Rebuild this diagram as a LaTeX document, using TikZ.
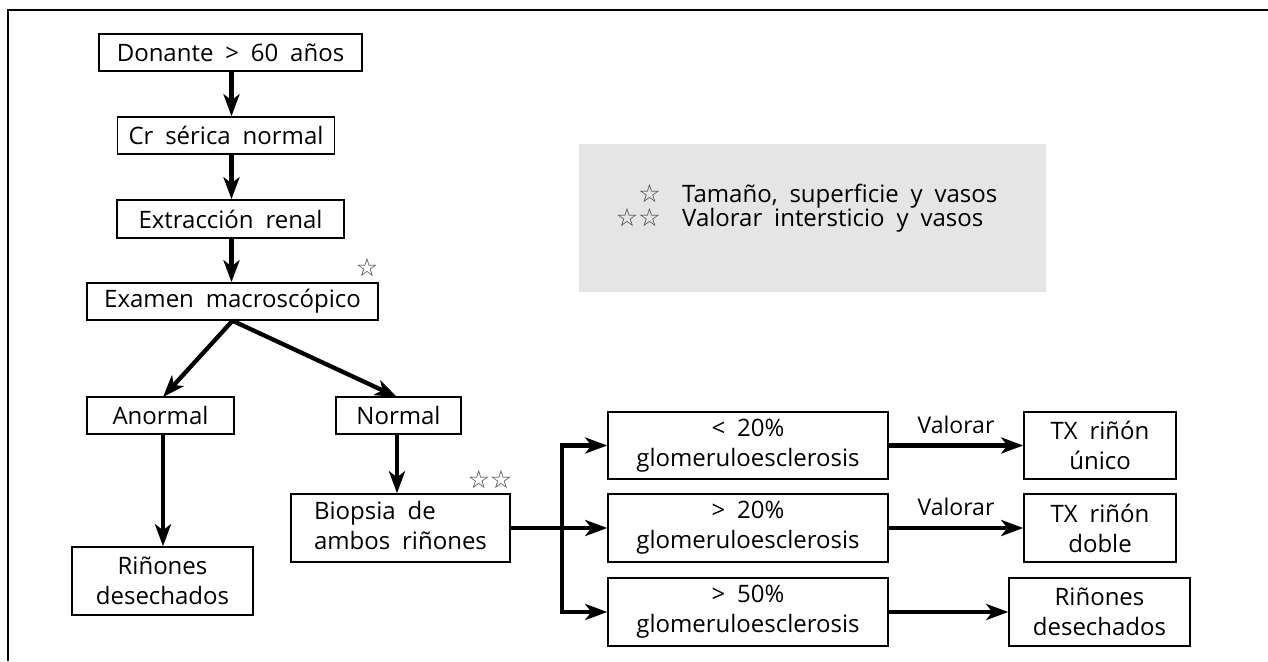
\documentclass[tikz,border=0pt]{standalone}
\usepackage{fontspec}
\setmainfont{Open Sans}[WordSpace=1.9]
\newfontfamily\symf{DejaVu Sans}
\usetikzlibrary{arrows.meta}
\tikzset{
  box/.style={draw, line width=1.5pt, inner sep=0pt, align=center, font=\fontsize{24}{30}\selectfont},
  arr/.style={line width=4.3pt, -{Stealth[length=22pt,width=16pt,inset=6pt]}},
  bar/.style={line width=4.3pt},
  starlbl/.style={font=\symf\fontsize{25}{25}\selectfont, text=black!75, inner sep=0pt},
  lbl/.style={font=\fontsize{23}{24}\selectfont, inner sep=0pt},
  legtxt/.style={font=\fontsize{24}{24}\selectfont, inner sep=0pt}
}
\begin{document}
\begin{tikzpicture}[x=1pt,y=-1pt]
\useasboundingbox (0,0) rectangle (1268,661);
% frame
\draw[line width=1.4pt] (8,661) -- (8,10) -- (1268,10);
% legend
\fill[black!10] (579,144) rectangle (1046,292);
\node[starlbl, anchor=base east] (ls1) at (661,202) {☆};
\node[starlbl, anchor=base east] (ls2) at (661,226) {☆☆};
\node[legtxt, anchor=base west] (lt1) at (682,202) {Tamaño, superficie y vasos};
\node[legtxt, anchor=base west] (lt2) at (682,226) {Valorar intersticio y vasos};
% nodes
\node[box, minimum width=263pt, minimum height=37pt] (don) at (230.5,52.5) {Donante > 60 años};
\node[box, minimum width=217pt, minimum height=37pt] (cr) at (226,135.5) {Cr sérica normal};
\node[box, minimum width=227pt, minimum height=38pt] (ext) at (230.5,219) {Extracción renal};
\node[box, minimum width=291pt, minimum height=37pt] (exa) at (232.5,301.5) {Examen macroscópico};
\node[starlbl] (s1) at (367,268) {☆};
\node[box, minimum width=147pt, minimum height=37pt] (ano) at (160.5,415.5) {Anormal};
\node[box, minimum width=125pt, minimum height=37pt] (nor) at (398.5,415.5) {Normal};
\node[box, minimum width=181pt, minimum height=68pt] (rd1) at (162.5,581) {Riñones\\desechados};
\node[box, minimum width=219pt, minimum height=68pt] (bio) at (400.5,528) {\begin{tabular}{@{}l@{}}Biopsia de\\ambos riñones\end{tabular}};
\node[starlbl] (s2) at (490,480) {☆☆};
\node[box, minimum width=280pt, minimum height=67pt] (g1) at (748,445.5) {< 20\%\\glomeruloesclerosis};
\node[box, minimum width=280pt, minimum height=68pt] (g2) at (748,528) {> 20\%\\glomeruloesclerosis};
\node[box, minimum width=280pt, minimum height=68pt] (g3) at (748,612) {> 50\%\\glomeruloesclerosis};
\node[box, minimum width=152pt, minimum height=67pt] (tx1) at (1100,445.5) {TX riñón\\único};
\node[box, minimum width=152pt, minimum height=68pt] (tx2) at (1100,528) {TX riñón\\doble};
\node[box, minimum width=181pt, minimum height=68pt] (rd2) at (1099.5,612) {Riñones\\desechados};
% connectors
\coordinate (c1) at (231.5,0);
\draw[arr] (c1 |- don.south) -- (c1 |- cr.north);
\draw[arr] (c1 |- cr.south) -- (c1 |- ext.north);
\draw[arr] (c1 |- ext.south) -- (c1 |- exa.north);
\coordinate (ta) at (163,397);
\coordinate (tn) at (397,397);
\draw[arr] (exa.south) -- (ta);
\draw[arr] (exa.south) -- (tn);
\draw[arr] (ta |- ano.south) -- (ta |- rd1.north);
\draw[arr] (tn |- nor.south) -- (tn |- bio.north);
\coordinate (bx) at (562,528);
\draw[bar] (bio.east) -- (bx);
\draw[arr] (bx) -- (g2.west);
\draw[arr, line join=miter] (bx) |- (g1.west);
\draw[arr, line join=miter] (bx) |- (g3.west);
\draw[arr] (g1.east) -- node[lbl, above=10pt] {Valorar} (tx1.west);
\draw[arr] (g2.east) -- node[lbl, above=10pt] {Valorar} (tx2.west);
\draw[arr] (g3.east) -- (rd2.west);
\end{tikzpicture}
\end{document}
